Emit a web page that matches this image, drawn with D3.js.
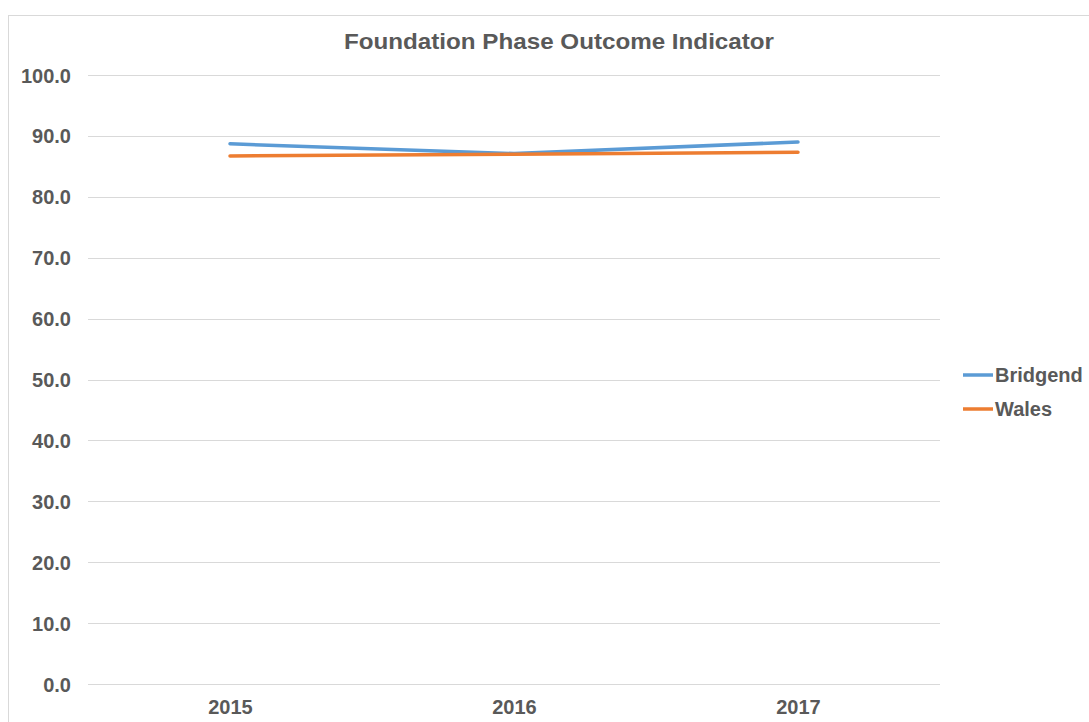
<!DOCTYPE html>
<html>
<head>
<meta charset="utf-8">
<script src="https://cdn.jsdelivr.net/npm/d3@7"></script>
<style>
  html, body { margin: 0; padding: 0; background: #fff; }
  svg { display: block; font-family: "Liberation Sans", Arial, sans-serif; }
</style>
</head>
<body>
<svg id="chart" width="1089" height="722"></svg>
<script>
// chart data
const years = ["2015", "2016", "2017"];
const bridgend = [88.7, 87.1, 89.0];
const wales = [86.7, 87.0, 87.3];
const yTicks = [0, 10, 20, 30, 40, 50, 60, 70, 80, 90, 100];
const seriesNames = ["Bridgend", "Wales"];
const seriesColors = ["#5B9BD5", "#ED7D31"];

const svg = d3.select("#chart");
const margin = {top: 75, left: 88, right: 940, bottom: 684};

// chart frame
svg.append("rect")
  .attr("x", 8.5).attr("y", 15.5)
  .attr("width", 1200).attr("height", 800)
  .attr("fill", "none")
  .attr("stroke", "#D9D9D9");

const x = d3.scalePoint()
  .domain(years)
  .range([margin.left, margin.right])
  .padding(0.5);

const y = d3.scaleLinear()
  .domain([0, 100])
  .range([margin.bottom, margin.top]);

// gridlines
svg.append("g")
  .selectAll("line")
  .data(yTicks)
  .enter().append("line")
    .attr("x1", margin.left)
    .attr("x2", margin.right)
    .attr("y1", d => Math.round(y(d)) + 0.5)
    .attr("y2", d => Math.round(y(d)) + 0.5)
    .attr("stroke", "#D9D9D9")
    .attr("stroke-width", 1);

// y axis labels
const yAxis = d3.axisLeft(y)
  .tickValues(yTicks)
  .tickFormat(d3.format(".1f"))
  .tickSize(0)
  .tickPadding(17);

svg.append("g")
  .attr("transform", "translate(" + (margin.left) + ",0)")
  .call(yAxis)
  .call(g => g.select(".domain").remove())
  .selectAll("text")
    .attr("fill", "#595959")
    .style("font-size", "20px")
    .style("font-weight", "bold")
    .attr("dy", "0.35em");

// x axis labels
const xAxis = d3.axisBottom(x).tickSize(0).tickPadding(16);

svg.append("g")
  .attr("transform", "translate(0," + margin.bottom + ")")
  .call(xAxis)
  .call(g => g.select(".domain").remove())
  .selectAll("text")
    .attr("fill", "#595959")
    .style("font-size", "20px")
    .style("font-weight", "bold");

// lines
const line = d3.line()
  .x((d, i) => x(years[i]))
  .y(d => y(d));

[bridgend, wales].forEach((values, i) => {
  svg.append("path")
    .datum(values)
    .attr("d", line)
    .attr("fill", "none")
    .attr("stroke", seriesColors[i])
    .attr("stroke-width", 3.5)
    .attr("stroke-linecap", "round")
    .attr("stroke-linejoin", "round");
});

// title
svg.append("text")
  .attr("x", 559)
  .attr("y", 49)
  .attr("text-anchor", "middle")
  .attr("fill", "#595959")
  .attr("textLength", 430)
  .attr("lengthAdjust", "spacingAndGlyphs")
  .style("font-size", "22px")
  .style("font-weight", "bold")
  .text("Foundation Phase Outcome Indicator");

// legend
const legend = svg.append("g")
  .selectAll("g")
  .data(seriesNames)
  .enter().append("g")
    .attr("transform", (d, i) => "translate(963," + (375 + i * 34) + ")");

legend.append("line")
  .attr("x1", 0).attr("x2", 30)
  .attr("stroke", (d, i) => seriesColors[i])
  .attr("stroke-width", 3.5);

legend.append("text")
  .attr("x", 32)
  .attr("dy", "0.35em")
  .attr("fill", "#595959")
  .style("font-size", "20px")
  .style("font-weight", "bold")
  .text(d => d);
</script>
</body>
</html>
